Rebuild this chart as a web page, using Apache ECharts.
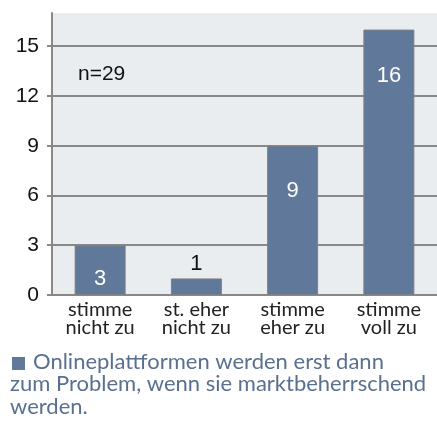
<!DOCTYPE html>
<html>
<head>
<meta charset="utf-8">
<script src="https://cdn.jsdelivr.net/npm/echarts@6/dist/echarts.min.js"></script>
<style>
  html, body { margin: 0; padding: 0; background: #fff; }
  #chart { width: 437px; height: 421px; }
</style>
</head>
<body>
<div id="chart"></div>
<script>
var categories = ['stimme\nnicht zu', 'st. eher\nnicht zu', 'stimme\neher zu', 'stimme\nvoll zu'];
var values = [3, 1, 9, 16];
var seriesName = 'Onlineplattformen werden erst dann zum Problem, wenn sie marktbeherrschend werden.';
var sampleNote = 'n=29';

// label placement per bar, like the original
var labelPos = [
    {position: 'insideBottom', distance: 5, color: '#fff'},
    {position: 'top', distance: 3, color: '#111'},
    {position: 'insideTop', distance: 34, color: '#fff'},
    {position: 'insideTop', distance: 35, color: '#fff'}
];

var barData = values.map(function (v, i) {
    return {value: v, label: labelPos[i]};
});

var chart = echarts.init(document.getElementById('chart'));
var option = {
    animation: false,
    grid: {
        left: 52, right: 0, top: 13, bottom: 126,
        show: true, backgroundColor: '#eaedf0', borderWidth: 0
    },
    xAxis: {
        type: 'category',
        data: categories,
        axisLine: {show: false},
        axisTick: {show: false},
        axisLabel: {
            fontFamily: 'Lato', fontSize: 20, lineHeight: 18,
            color: '#222', margin: 6
        }
    },
    yAxis: {
        type: 'value',
        min: 0, max: 17, interval: 3,
        axisLine: {show: true, lineStyle: {color: '#888', width: 2}},
        axisTick: {show: true, length: 5, lineStyle: {color: '#888', width: 2}},
        axisLabel: {
            showMaxLabel: false,
            fontFamily: 'Liberation Sans', fontSize: 21, color: '#111', margin: 13
        },
        splitLine: {show: true, showMaxLine: false, lineStyle: {color: '#888', width: 2}}
    },
    series: [{
        name: seriesName,
        type: 'bar',
        barWidth: 51,
        data: barData,
        itemStyle: {color: '#60799a', borderColor: '#808080', borderWidth: 1},
        label: {show: true, fontFamily: 'Liberation Sans', fontSize: 22}
    }],
    graphic: [
        {type: 'text', left: 78, top: 64, style: {text: sampleNote, font: '21px "Liberation Sans"', fill: '#111'}},
        {type: 'rect', left: 12, top: 357, shape: {width: 13, height: 13}, style: {fill: '#60799a'}},
        {type: 'text', left: 33, top: 351, style: {text: 'Onlineplattformen werden erst dann', font: '22px Lato', fill: '#5a7090'}},
        {type: 'text', left: 10, top: 373, style: {text: 'zum Problem, wenn sie marktbeherrschend\nwerden.', font: '22px Lato', fill: '#5a7090', lineHeight: 22.5}}
    ]
};
chart.setOption(option);
</script>
</body>
</html>
